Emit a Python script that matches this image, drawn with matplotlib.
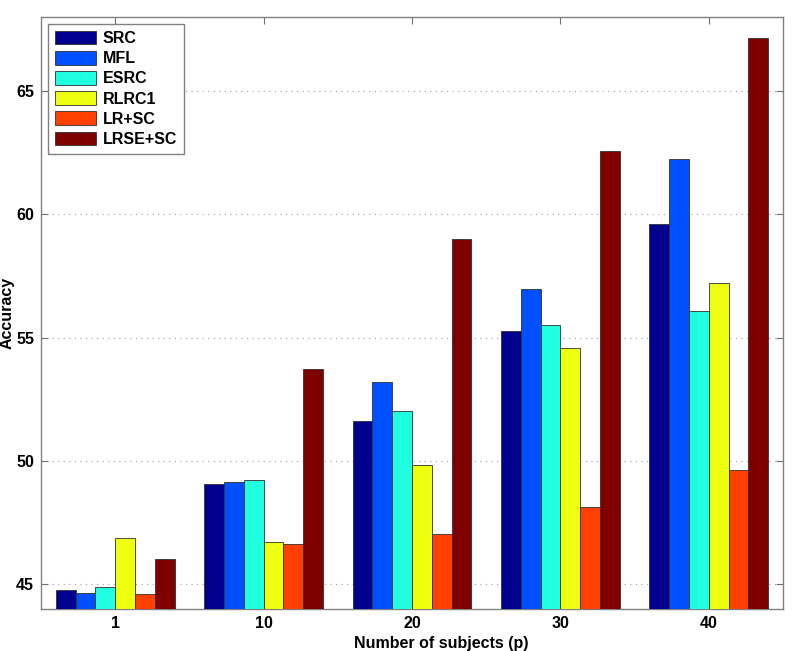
import numpy as np
import matplotlib
matplotlib.use('Agg')
from matplotlib import pyplot as plt

# data
groups = ['1', '10', '20', '30', '40']
methods = ['SRC', 'MFL', 'ESRC', 'RLRC1', 'LR+SC', 'LRSE+SC']
src = [44.77, 49.05, 51.63, 55.29, 59.59]
mfl = [44.65, 49.13, 53.20, 56.96, 62.25]
esrc = [44.90, 49.23, 52.02, 55.53, 56.07]
rlrc1 = [46.87, 46.72, 49.82, 54.57, 57.20]
lrsc = [44.61, 46.64, 47.04, 48.12, 49.63]
lrsesc = [46.04, 53.75, 59.00, 62.55, 67.16]
colors = ['#00008F', '#0050FF', '#20FFDF', '#EFFF10', '#FF4000', '#800000']

plt.rcParams['font.family'] = ['Liberation Sans', 'DejaVu Sans']
plt.rcParams['font.weight'] = 'bold'

fig = plt.figure(figsize=(7.93, 6.51), dpi=100)
ax = fig.add_axes([41 / 793, 42 / 651, 742 / 793, 592 / 651])

series = [src, mfl, esrc, rlrc1, lrsc, lrsesc]
x = np.arange(1, len(groups) + 1)
w = 0.8 / len(series)
for i, vals in enumerate(series):
    offs = (i - (len(series) - 1) / 2) * w
    ax.bar(x + offs, vals, width=w, color=colors[i], edgecolor='#303030',
           linewidth=0.6, label=methods[i], zorder=3)

ax.set_xlim(0.5, 5.5)
ax.set_ylim(44, 68)
ax.set_xticks(x)
ax.set_xticklabels(groups)
ax.set_yticks([45, 50, 55, 60, 65])
ax.tick_params(direction='in', top=True, right=True, length=5, width=0.8,
               colors='#707070', labelcolor='black', labelsize=11.5, pad=5)
for lab in ax.get_xticklabels() + ax.get_yticklabels():
    lab.set_fontweight('bold')
ax.yaxis.grid(True, linestyle=(0, (1, 4)), color='#a0a0a0', linewidth=0.8, zorder=0)
for s in ax.spines.values():
    s.set_color('#808080')
    s.set_linewidth(1.0)

ax.set_xlabel('Number of subjects (p)', fontsize=11.5, fontweight='bold')
ax.xaxis.set_label_coords(0.54, -0.045)
ax.set_ylabel('Accuracy', fontsize=11.5, fontweight='bold')
ax.yaxis.set_label_coords(-0.036, 0.5)

leg = ax.legend(loc='upper left', bbox_to_anchor=(0.009, 0.989), borderaxespad=0,
                fontsize=11.5, handlelength=2.6, handleheight=0.95,
                labelspacing=0.3, handletextpad=0.4, borderpad=0.45,
                fancybox=False, framealpha=1)
leg.get_frame().set_edgecolor('#808080')
leg.get_frame().set_linewidth(1.0)
for t in leg.get_texts():
    t.set_fontweight('bold')

fig.savefig('out.png', dpi=100)
